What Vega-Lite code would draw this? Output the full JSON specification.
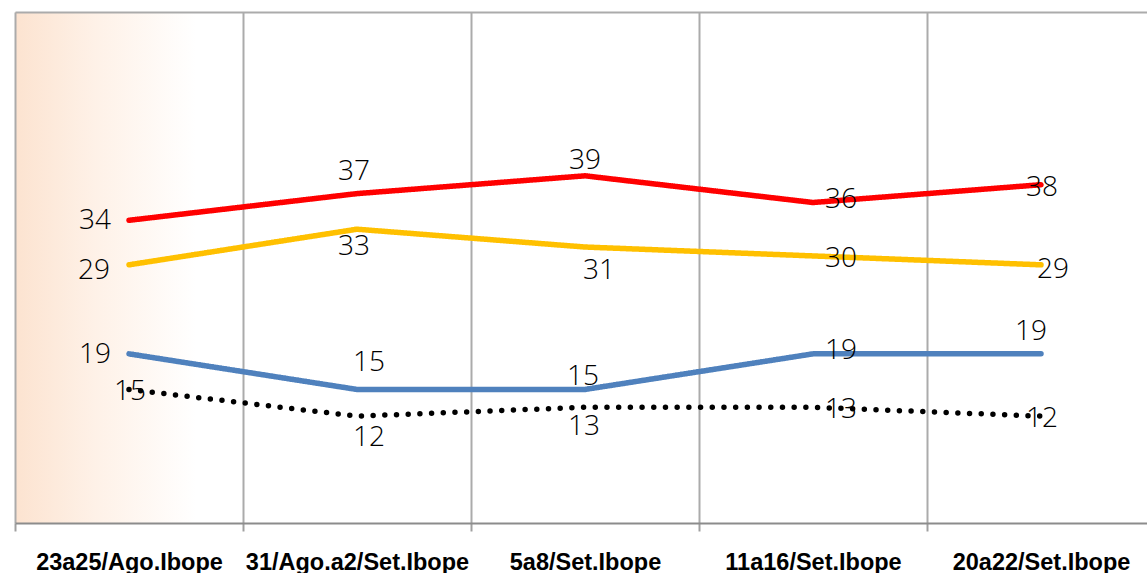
{
  "$schema": "https://vega.github.io/schema/vega-lite/v6.json",
  "width": 1132,
  "height": 511,
  "autosize": "none",
  "padding": {"left": 15, "top": 12, "right": 0, "bottom": 50},
  "background": "white",
  "view": {"stroke": null, "fill": {"gradient": "linear", "x1": 0, "y1": 0, "x2": 1, "y2": 0, "stops": [{"offset": 0, "color": "#FCE3D0"}, {"offset": 0.07, "color": "#FEF1E7"}, {"offset": 0.16, "color": "#FFFFFF"}]}},
  "data": {"values": [
    {"fecha": "23a25/Ago.Ibope", "serie": "Dilma", "valor": 34},
    {"fecha": "31/Ago.a2/Set.Ibope", "serie": "Dilma", "valor": 37},
    {"fecha": "5a8/Set.Ibope", "serie": "Dilma", "valor": 39},
    {"fecha": "11a16/Set.Ibope", "serie": "Dilma", "valor": 36},
    {"fecha": "20a22/Set.Ibope", "serie": "Dilma", "valor": 38},
    {"fecha": "23a25/Ago.Ibope", "serie": "Marina", "valor": 29},
    {"fecha": "31/Ago.a2/Set.Ibope", "serie": "Marina", "valor": 33},
    {"fecha": "5a8/Set.Ibope", "serie": "Marina", "valor": 31},
    {"fecha": "11a16/Set.Ibope", "serie": "Marina", "valor": 30},
    {"fecha": "20a22/Set.Ibope", "serie": "Marina", "valor": 29},
    {"fecha": "23a25/Ago.Ibope", "serie": "Aécio", "valor": 19},
    {"fecha": "31/Ago.a2/Set.Ibope", "serie": "Aécio", "valor": 15},
    {"fecha": "5a8/Set.Ibope", "serie": "Aécio", "valor": 15},
    {"fecha": "11a16/Set.Ibope", "serie": "Aécio", "valor": 19},
    {"fecha": "20a22/Set.Ibope", "serie": "Aécio", "valor": 19},
    {"fecha": "23a25/Ago.Ibope", "serie": "Outros", "valor": 15},
    {"fecha": "31/Ago.a2/Set.Ibope", "serie": "Outros", "valor": 12},
    {"fecha": "5a8/Set.Ibope", "serie": "Outros", "valor": 13},
    {"fecha": "11a16/Set.Ibope", "serie": "Outros", "valor": 13},
    {"fecha": "20a22/Set.Ibope", "serie": "Outros", "valor": 12}
  ]},
  "encoding": {
    "x": {
      "field": "fecha", "type": "nominal",
      "sort": ["23a25/Ago.Ibope", "31/Ago.a2/Set.Ibope", "5a8/Set.Ibope", "11a16/Set.Ibope", "20a22/Set.Ibope"],
      "scale": {"type": "band", "range": [0, 1140], "paddingInner": 0, "paddingOuter": 0},
      "axis": {"title": null, "tickBand": "extent", "grid": true, "gridColor": "#ABABAB", "gridWidth": 2,
        "domainColor": "#8C8C8C", "domainWidth": 2, "tickColor": "#A0A0A0", "tickWidth": 2, "tickSize": 8,
        "labelFont": "Liberation Sans", "labelFontWeight": "bold", "labelFontSize": 23.5, "labelColor": "#000000",
        "labelPadding": 19, "labelAngle": 0, "labelLimit": 0}
    },
    "y": {
      "field": "valor", "type": "quantitative",
      "scale": {"domain": [0, 57.4], "nice": false, "zero": true},
      "axis": {"title": null, "labels": false, "ticks": false, "domain": false, "grid": true, "values": [57.4], "gridColor": "#ABABAB", "gridWidth": 2}
    }
  },
  "layer": [
    {
      "mark": {"type": "line", "strokeWidth": 5.5, "strokeCap": "round", "strokeJoin": "round"},
      "encoding": {
        "color": {"field": "serie", "type": "nominal", "legend": null,
          "scale": {"domain": ["Dilma", "Marina", "Aécio", "Outros"], "range": ["#FF0000", "#FFC000", "#4F81BD", "#000000"]}},
        "strokeDash": {"field": "serie", "type": "nominal", "legend": null,
          "scale": {"domain": ["Dilma", "Marina", "Aécio", "Outros"], "range": [[1, 0], [1, 0], [1, 0], [0, 11.7]]}}
      }
    },
    {"transform": [{"filter": "(datum.serie=='Dilma' || datum.serie=='Aécio') && datum.fecha=='23a25/Ago.Ibope'"}],
     "mark": {"type": "text", "font": "Open Sans", "fontWeight": 300, "fontSize": 28, "color": "#000000", "baseline": "middle", "align": "center", "dx": -34, "dy": 1},
     "encoding": {"text": {"field": "valor"}}},
    {"transform": [{"filter": "datum.serie=='Marina' && datum.fecha=='23a25/Ago.Ibope'"}],
     "mark": {"type": "text", "font": "Open Sans", "fontWeight": 300, "fontSize": 28, "color": "#000000", "baseline": "middle", "align": "center", "dx": -35, "dy": 6},
     "encoding": {"text": {"field": "valor"}}},
    {"transform": [{"filter": "datum.serie=='Dilma' && datum.fecha=='31/Ago.a2/Set.Ibope'"}],
     "mark": {"type": "text", "font": "Open Sans", "fontWeight": 300, "fontSize": 28, "color": "#000000", "baseline": "middle", "align": "center", "dx": -3, "dy": -22},
     "encoding": {"text": {"field": "valor"}}},
    {"transform": [{"filter": "datum.serie=='Dilma' && datum.fecha=='5a8/Set.Ibope'"}],
     "mark": {"type": "text", "font": "Open Sans", "fontWeight": 300, "fontSize": 28, "color": "#000000", "baseline": "middle", "align": "center", "dx": 0, "dy": -15},
     "encoding": {"text": {"field": "valor"}}},
    {"transform": [{"filter": "(datum.serie=='Dilma' || datum.serie=='Aécio') && datum.fecha=='11a16/Set.Ibope'"}],
     "mark": {"type": "text", "font": "Open Sans", "fontWeight": 300, "fontSize": 28, "color": "#000000", "baseline": "middle", "align": "center", "dx": 28, "dy": -3},
     "encoding": {"text": {"field": "valor"}}},
    {"transform": [{"filter": "(datum.serie=='Marina' || datum.serie=='Outros') && datum.fecha=='11a16/Set.Ibope'"}],
     "mark": {"type": "text", "font": "Open Sans", "fontWeight": 300, "fontSize": 28, "color": "#000000", "baseline": "middle", "align": "center", "dx": 28, "dy": 3},
     "encoding": {"text": {"field": "valor"}}},
    {"transform": [{"filter": "(datum.serie=='Dilma' && datum.fecha=='20a22/Set.Ibope') || (datum.serie=='Outros' && (datum.fecha=='20a22/Set.Ibope' || datum.fecha=='23a25/Ago.Ibope'))"}],
     "mark": {"type": "text", "font": "Open Sans", "fontWeight": 300, "fontSize": 28, "color": "#000000", "baseline": "middle", "align": "center", "dx": 1, "dy": 3},
     "encoding": {"text": {"field": "valor"}}},
    {"transform": [{"filter": "datum.serie=='Marina' && datum.fecha=='31/Ago.a2/Set.Ibope'"}],
     "mark": {"type": "text", "font": "Open Sans", "fontWeight": 300, "fontSize": 28, "color": "#000000", "baseline": "middle", "align": "center", "dx": -3, "dy": 18},
     "encoding": {"text": {"field": "valor"}}},
    {"transform": [{"filter": "datum.serie=='Marina' && datum.fecha=='5a8/Set.Ibope'"}],
     "mark": {"type": "text", "font": "Open Sans", "fontWeight": 300, "fontSize": 28, "color": "#000000", "baseline": "middle", "align": "center", "dx": 14, "dy": 24},
     "encoding": {"text": {"field": "valor"}}},
    {"transform": [{"filter": "datum.serie=='Marina' && datum.fecha=='20a22/Set.Ibope'"}],
     "mark": {"type": "text", "font": "Open Sans", "fontWeight": 300, "fontSize": 28, "color": "#000000", "baseline": "middle", "align": "center", "dx": 12, "dy": 5},
     "encoding": {"text": {"field": "valor"}}},
    {"transform": [{"filter": "datum.serie=='Aécio' && datum.fecha=='31/Ago.a2/Set.Ibope'"}],
     "mark": {"type": "text", "font": "Open Sans", "fontWeight": 300, "fontSize": 28, "color": "#000000", "baseline": "middle", "align": "center", "dx": 12, "dy": -26},
     "encoding": {"text": {"field": "valor"}}},
    {"transform": [{"filter": "datum.serie=='Aécio' && datum.fecha=='5a8/Set.Ibope'"}],
     "mark": {"type": "text", "font": "Open Sans", "fontWeight": 300, "fontSize": 28, "color": "#000000", "baseline": "middle", "align": "center", "dx": -2, "dy": -12},
     "encoding": {"text": {"field": "valor"}}},
    {"transform": [{"filter": "datum.serie=='Aécio' && datum.fecha=='20a22/Set.Ibope'"}],
     "mark": {"type": "text", "font": "Open Sans", "fontWeight": 300, "fontSize": 28, "color": "#000000", "baseline": "middle", "align": "center", "dx": -10, "dy": -22},
     "encoding": {"text": {"field": "valor"}}},
    {"transform": [{"filter": "datum.serie=='Outros' && datum.fecha=='31/Ago.a2/Set.Ibope'"}],
     "mark": {"type": "text", "font": "Open Sans", "fontWeight": 300, "fontSize": 28, "color": "#000000", "baseline": "middle", "align": "center", "dx": 12, "dy": 22},
     "encoding": {"text": {"field": "valor"}}},
    {"transform": [{"filter": "datum.serie=='Outros' && datum.fecha=='5a8/Set.Ibope'"}],
     "mark": {"type": "text", "font": "Open Sans", "fontWeight": 300, "fontSize": 28, "color": "#000000", "baseline": "middle", "align": "center", "dx": -1, "dy": 20},
     "encoding": {"text": {"field": "valor"}}}
  ]
}
